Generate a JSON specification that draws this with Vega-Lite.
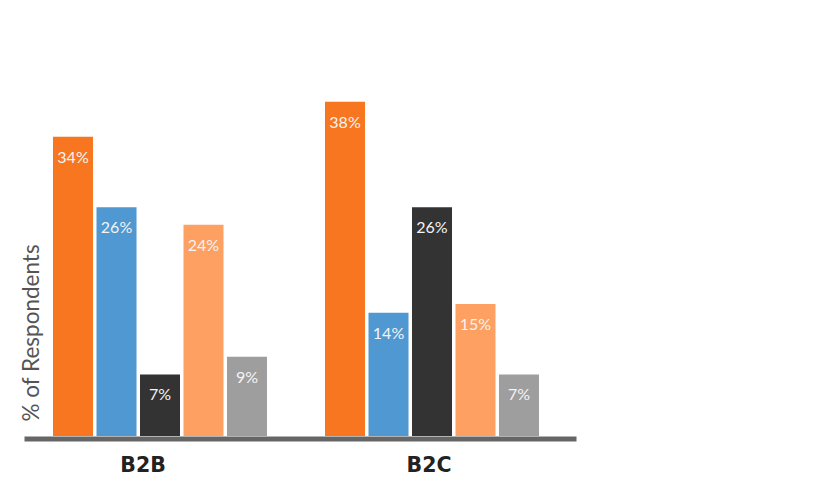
{
  "$schema": "https://vega.github.io/schema/vega-lite/v6.json",
  "width": 552,
  "height": 436,
  "autosize": {"type": "none"},
  "padding": {"left": 24, "top": 0, "right": 245, "bottom": 41},
  "background": "white",
  "config": {"view": {"stroke": null}, "font": "Lato"},
  "data": {
    "values": [
      {"segment": "B2B", "option": "A", "pct": 0.34},
      {"segment": "B2B", "option": "B", "pct": 0.26},
      {"segment": "B2B", "option": "C", "pct": 0.07},
      {"segment": "B2B", "option": "D", "pct": 0.24},
      {"segment": "B2B", "option": "E", "pct": 0.09},
      {"segment": "B2C", "option": "A", "pct": 0.38},
      {"segment": "B2C", "option": "B", "pct": 0.14},
      {"segment": "B2C", "option": "C", "pct": 0.26},
      {"segment": "B2C", "option": "D", "pct": 0.15},
      {"segment": "B2C", "option": "E", "pct": 0.07}
    ]
  },
  "encoding": {
    "x": {
      "field": "segment",
      "type": "nominal",
      "scale": {"paddingInner": 0, "paddingOuter": 0.0147, "align": 0},
      "axis": {
        "title": null,
        "labelAngle": 0,
        "ticks": false,
        "domainColor": "#666666",
        "domainWidth": 5,
        "offset": 2.5,
        "labelFont": "DejaVu Sans",
        "labelFontSize": 20.5,
        "labelFontWeight": "bold",
        "labelColor": "#222222",
        "labelBaseline": "alphabetic",
        "labelPadding": 33,
        "labelOffset": {"condition": {"test": "datum.value === 'B2B'", "value": -17}, "value": -3}
      }
    },
    "xOffset": {
      "field": "option",
      "type": "nominal",
      "scale": {"paddingInner": 0.08, "paddingOuter": 0.667}
    },
    "y": {
      "field": "pct",
      "type": "quantitative",
      "scale": {"domain": [0, 0.4955]},
      "axis": {
        "title": "% of Respondents",
        "labels": false,
        "ticks": false,
        "grid": false,
        "domain": false,
        "titleFont": "Lato",
        "titleFontSize": 22.5,
        "titleFontWeight": "normal",
        "titleColor": "#555555",
        "titleAngle": -90,
        "titleAlign": "left",
        "titleBaseline": "alphabetic",
        "titleX": 14,
        "titleY": 421
      }
    }
  },
  "layer": [
    {
      "mark": {"type": "bar"},
      "encoding": {
        "color": {
          "field": "option",
          "type": "nominal",
          "scale": {
            "domain": ["A", "B", "C", "D", "E"],
            "range": ["#F7761F", "#4F98D1", "#333333", "#FDA062", "#9E9E9E"]
          },
          "legend": null
        }
      }
    },
    {
      "mark": {
        "type": "text",
        "baseline": "middle",
        "align": "center",
        "dy": 21,
        "fontSize": 16,
        "fontWeight": "normal",
        "font": "Lato",
        "color": "#F4F4F4"
      },
      "encoding": {
        "text": {"field": "pct", "type": "quantitative", "format": ".0%"},
        "detail": {"field": "option"}
      }
    }
  ]
}
